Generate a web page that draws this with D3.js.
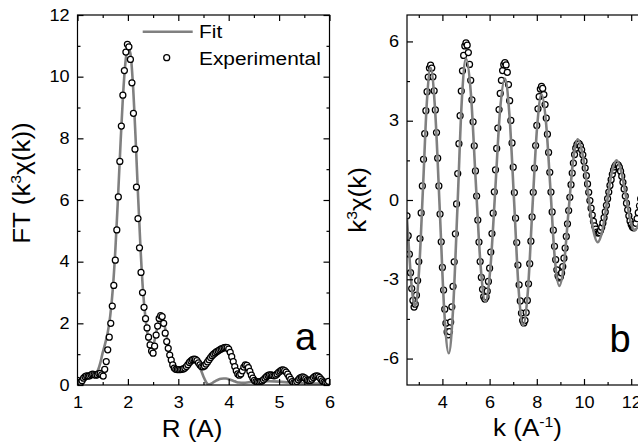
<!DOCTYPE html>
<html>
<head>
<meta charset="utf-8">
<script src="https://cdn.jsdelivr.net/npm/d3@7"></script>
<style>
body { margin: 0; background: #fff; }
svg text { font-family: "Liberation Sans", Arial, sans-serif; fill: #000; }
</style>
</head>
<body>
<svg id="chart"></svg>
<script>
// ---- panel a : Fourier transform magnitude ----
var rExp = [1.00,1.03,1.06,1.09,1.12,1.15,1.18,1.21,1.24,1.27,
  1.30,1.33,1.36,1.39,1.42,1.45,1.48,1.51,1.54,1.57,
  1.60,1.63,1.66,1.69,1.72,1.75,1.78,1.81,1.84,1.87,
  1.90,1.93,1.96,1.99,2.02,2.05,2.08,2.11,2.14,2.17,
  2.20,2.23,2.26,2.29,2.32,2.35,2.38,2.41,2.44,2.47,
  2.50,2.53,2.56,2.59,2.62,2.65,2.68,2.71,2.74,2.77,
  2.80,2.83,2.86,2.89,2.92,2.95,2.98,3.01,3.04,3.07,
  3.10,3.13,3.16,3.19,3.22,3.25,3.28,3.31,3.34,3.37,
  3.40,3.43,3.46,3.49,3.52,3.55,3.58,3.61,3.64,3.67,
  3.70,3.73,3.76,3.79,3.82,3.85,3.88,3.91,3.94,3.97,
  4.00,4.03,4.06,4.09,4.12,4.15,4.18,4.21,4.24,4.27,
  4.30,4.33,4.36,4.39,4.42,4.45,4.48,4.51,4.54,4.57,
  4.60,4.63,4.66,4.69,4.72,4.75,4.78,4.81,4.84,4.87,
  4.90,4.93,4.96,4.99,5.02,5.05,5.08,5.11,5.14,5.17,
  5.20,5.23,5.26,5.29,5.32,5.35,5.38,5.41,5.44,5.47,
  5.50,5.53,5.56,5.59,5.62,5.65,5.68,5.71,5.74,5.77,
  5.80,5.83,5.86,5.89,5.92,5.95,5.98]
var ftExp = [0.15,0.07,0.08,0.14,0.22,0.27,0.30,0.29,0.30,0.33,
  0.35,0.34,0.32,0.33,0.37,0.38,0.33,0.29,0.51,0.76,
  1.14,1.55,2.00,2.56,3.23,4.05,5.03,6.10,7.25,8.40,
  9.40,10.20,10.80,11.05,10.97,10.56,9.80,8.81,7.65,6.42,
  5.40,4.45,3.65,3.00,2.52,2.15,1.85,1.55,1.30,1.10,
  1.03,1.26,1.62,1.91,2.16,2.25,2.22,2.00,1.68,1.41,
  1.19,0.97,0.81,0.65,0.55,0.51,0.50,0.50,0.50,0.51,
  0.52,0.55,0.60,0.66,0.73,0.78,0.82,0.84,0.83,0.79,
  0.72,0.65,0.60,0.59,0.62,0.68,0.75,0.82,0.89,0.95,
  1.00,1.04,1.08,1.11,1.14,1.17,1.19,1.21,1.22,1.21,
  1.16,1.06,0.92,0.76,0.60,0.46,0.36,0.32,0.36,0.46,
  0.58,0.65,0.64,0.56,0.44,0.32,0.22,0.15,0.11,0.10,
  0.10,0.11,0.13,0.17,0.22,0.27,0.31,0.33,0.33,0.31,
  0.30,0.32,0.36,0.41,0.45,0.48,0.49,0.47,0.42,0.35,
  0.26,0.18,0.11,0.07,0.07,0.11,0.17,0.22,0.25,0.26,
  0.24,0.20,0.16,0.14,0.15,0.19,0.24,0.28,0.30,0.29,
  0.25,0.19,0.13,0.09,0.07,0.08,0.12]
var rFit = [1.30,1.35,1.40,1.45,1.50,1.55,1.60,1.65,1.70,1.75,
  1.80,1.85,1.90,1.95,2.00,2.05,2.10,2.15,2.20,2.25,
  2.30,2.35,2.40,2.45,2.50,2.55,2.60,2.65,2.70,2.75,
  2.80,2.85,2.90,2.95,3.00,3.05,3.10,3.15,3.20,3.25,
  3.30,3.35,3.40,3.45,3.50,3.55,3.60,3.65,3.70,3.75,
  3.80,3.85,3.90,3.95,4.00,4.05,4.10,4.15,4.20,
  4.30,4.40,4.50,4.60,4.80,5.00,5.20,5.40,5.60,5.80,6.00]
var ftFit = [0.28,0.33,0.45,0.70,1.05,1.35,1.70,2.25,3.10,4.35,
  5.95,7.70,9.30,10.45,10.95,10.75,9.75,8.10,6.20,4.45,
  3.05,2.15,1.55,1.30,1.30,1.60,2.00,2.22,2.10,1.75,
  1.30,0.92,0.68,0.55,0.50,0.50,0.52,0.58,0.68,0.77,
  0.82,0.80,0.68,0.48,0.27,0.10,0.02,0.04,0.09,0.14,
  0.18,0.20,0.21,0.21,0.19,0.16,0.13,0.10,0.08,
  0.07,0.09,0.11,0.12,0.12,0.11,0.08,0.06,0.05,0.05,0.05]

// ---- panel b : k^3 weighted EXAFS ----
var kExp = [2.50,2.55,2.60,2.65,2.70,2.75,2.80,2.85,2.90,2.95,
  3.00,3.05,3.10,3.15,3.20,3.25,3.30,3.35,3.40,3.45,
  3.50,3.55,3.60,3.65,3.70,3.75,3.80,3.85,3.90,3.95,
  4.00,4.05,4.10,4.15,4.20,4.25,4.30,4.35,4.40,4.45,
  4.50,4.55,4.60,4.65,4.70,4.75,4.80,4.85,4.90,4.95,
  5.00,5.05,5.10,5.15,5.20,5.25,5.30,5.35,5.40,5.45,
  5.50,5.55,5.60,5.65,5.70,5.75,5.80,5.85,5.90,5.95,
  6.00,6.05,6.10,6.15,6.20,6.25,6.30,6.35,6.40,6.45,
  6.50,6.55,6.60,6.65,6.70,6.75,6.80,6.85,6.90,6.95,
  7.00,7.05,7.10,7.15,7.20,7.25,7.30,7.35,7.40,7.45,
  7.50,7.55,7.60,7.65,7.70,7.75,7.80,7.85,7.90,7.95,
  8.00,8.05,8.10,8.15,8.20,8.25,8.30,8.35,8.40,8.45,
  8.50,8.55,8.60,8.65,8.70,8.75,8.80,8.85,8.90,8.95,
  9.00,9.05,9.10,9.15,9.20,9.25,9.30,9.35,9.40,9.45,
  9.50,9.55,9.60,9.65,9.70,9.75,9.80,9.85,9.90,9.95,
  10.00,10.05,10.10,10.15,10.20,10.25,10.30,10.35,10.40,10.45,
  10.50,10.55,10.60,10.65,10.70,10.75,10.80,10.85,10.90,10.95,
  11.00,11.05,11.10,11.15,11.20,11.25,11.30,11.35,11.40,11.45,
  11.50,11.55,11.60,11.65,11.70,11.75,11.80,11.85,11.90,11.95,
  12.00,12.05,12.10,12.15,12.20,12.25,12.30,12.35,12.40,12.45]
var chiExp = [-0.60,-1.35,-2.05,-2.75,-3.35,-3.80,-4.05,-3.94,-3.60,-3.05,
  -2.33,-1.46,-0.49,0.53,1.54,2.51,3.38,4.10,4.65,4.99,
  5.10,4.99,4.66,4.13,3.41,2.55,1.58,0.53,-0.53,-1.58,
  -2.55,-3.41,-4.13,-4.66,-4.99,-5.10,-4.98,-4.62,-4.04,-3.27,
  -2.34,-1.28,-0.15,1.00,2.13,3.19,4.12,4.89,5.47,5.83,
  5.95,5.86,5.58,5.13,4.53,3.79,2.96,2.05,1.10,0.15,
  -0.76,-1.59,-2.33,-2.93,-3.38,-3.66,-3.75,-3.67,-3.45,-3.08,
  -2.58,-1.97,-1.27,-0.50,0.31,1.14,1.95,2.72,3.42,4.03,
  4.53,4.90,5.12,5.20,5.11,4.83,4.37,3.76,3.01,2.16,
  1.24,0.28,-0.69,-1.61,-2.46,-3.21,-3.82,-4.28,-4.56,-4.65,
  -4.55,-4.26,-3.80,-3.17,-2.41,-1.56,-0.64,0.29,1.21,2.06,
  2.82,3.45,3.91,4.20,4.30,4.22,3.99,3.61,3.10,2.49,
  1.80,1.05,0.30,-0.45,-1.14,-1.75,-2.26,-2.64,-2.87,-2.95,
  -2.90,-2.76,-2.52,-2.20,-1.82,-1.38,-0.90,-0.40,0.10,0.58,
  1.02,1.40,1.72,1.96,2.10,2.15,2.12,2.04,1.90,1.71,
  1.47,1.21,0.92,0.61,0.29,-0.02,-0.31,-0.57,-0.81,-0.98,
  -1.10,-1.22,-1.25,-1.23,-1.15,-1.03,-0.87,-0.67,-0.45,-0.20,
  0.05,0.30,0.55,0.77,0.97,1.13,1.25,1.33,1.35,1.32,
  1.23,1.09,0.90,0.67,0.42,0.15,-0.12,-0.37,-0.60,-0.79,
  -0.93,-1.02,-1.05,-1.00,-0.88,-0.70,-0.48,-0.22,0.05,0.30]
var kFit = [2.50,2.60,2.70,2.78,2.85,3.01,3.18,3.34,3.50,3.69,3.89,4.08,
  4.27,4.45,4.64,4.82,5.00,5.21,5.41,5.62,5.82,6.03,6.24,6.44,
  6.65,6.84,7.04,7.23,7.42,7.62,7.81,8.01,8.20,8.39,8.58,8.76,
  8.95,9.15,9.34,9.54,9.73,9.94,10.16,10.37,10.58,10.78,10.98,11.18,
  11.38,11.57,11.77,11.96,12.15,12.35,12.55,12.75]
var chiFit = [-0.70,-2.10,-3.30,-3.85,-4.00,-2.68,0.50,3.68,5.00,3.42,-0.40,-4.22,
  -5.80,-4.17,-0.23,3.72,5.35,4.00,0.75,-2.50,-3.85,-2.61,0.38,3.36,
  4.60,3.23,-0.08,-3.38,-4.75,-3.47,-0.38,2.72,4.00,2.94,0.38,-2.19,
  -3.25,-2.44,-0.48,1.49,2.30,1.73,0.35,-1.03,-1.60,-1.15,-0.05,1.05,
  1.50,1.11,0.18,-0.76,-1.15,-0.80,0.00,0.75]

var ticksA = { xMaj: [1,2,3,4,5,6], xMin: [1.5,2.5,3.5,4.5,5.5],
               yMaj: [0,2,4,6,8,10,12], yMin: [1,3,5,7,9,11] }
var ticksB = { xMaj: [4,6,8,10,12], xMin: [3,5,7,9,11,13],
               yMaj: [-6,-3,0,3,6], yMin: [-4.5,-1.5,1.5,4.5] }

var width = 638, height = 446
var gray = "#808080"
var stretch = "scale(1.13,1)"

var svg = d3.select("#chart").attr("width", width).attr("height", height)

var xA = d3.scaleLinear().domain([1, 6]).range([77.5, 329.5])
var yA = d3.scaleLinear().domain([0, 12]).range([385, 15])
var xB = d3.scaleLinear().domain([2.5, 13]).range([407, 654.8])
var yB = d3.scaleLinear().domain([-7, 7]).range([385, 15])

function drawAxes(x, y, t) {
  var left = x.range()[0], right = x.range()[1], bottom = y.range()[0], top = y.range()[1]
  var g = svg.append("g")
  var sides = [
    [d3.axisBottom, x, 0, bottom, t.xMaj, t.xMin, true],
    [d3.axisTop, x, 0, top, t.xMaj, t.xMin, false],
    [d3.axisLeft, y, left, 0, t.yMaj, t.yMin, true],
    [d3.axisRight, y, right, 0, t.yMaj, t.yMin, false]
  ]
  sides.forEach(function(s, i) {
    var pad = i < 2 ? 11.8 : 7.1
    var major = s[0](s[1]).tickValues(s[4]).tickSizeInner(-6).tickSizeOuter(0)
      .tickPadding(pad).tickFormat(s[6] ? function(d) { return String(d) } : "")
    var minor = s[0](s[1]).tickValues(s[5]).tickSizeInner(-3).tickSizeOuter(0).tickFormat("")
    ;[major, minor].forEach(function(ax) {
      var a = g.append("g").attr("transform", "translate(" + s[2] + "," + s[3] + ")").call(ax)
      a.select(".domain").remove()
      a.attr("font-family", null).attr("font-size", 16)
      a.selectAll(".tick line").attr("stroke-width", 1.2)
      a.selectAll(".tick text").attr("transform", stretch)
    })
  })
  g.append("rect").attr("x", left).attr("y", top)
    .attr("width", right - left).attr("height", bottom - top)
    .attr("fill", "none").attr("stroke", "#000").attr("stroke-width", 1.2)
}

function clip(id, x, y) {
  svg.append("clipPath").attr("id", id).append("rect")
    .attr("x", x.range()[0]).attr("y", y.range()[1])
    .attr("width", x.range()[1] - x.range()[0]).attr("height", y.range()[0] - y.range()[1])
}
clip("clipA", xA, yA)
clip("clipB", xB, yB)

function fitLine(g, xs, ys, x, y) {
  var line = d3.line().x(function(d) { return x(d[0]) }).y(function(d) { return y(d[1]) })
    .curve(d3.curveMonotoneX)
  g.append("path").datum(d3.zip(xs, ys)).attr("d", line)
    .attr("fill", "none").attr("stroke", gray).attr("stroke-width", 2.6)
}
function dots(g, xs, ys, x, y) {
  g.selectAll("circle.exp").data(d3.zip(xs, ys)).enter().append("circle")
    .attr("class", "exp")
    .attr("cx", function(d) { return x(d[0]) })
    .attr("cy", function(d) { return y(d[1]) })
    .attr("r", 3).attr("fill", "#fff").attr("stroke", "#000").attr("stroke-width", 1.25)
}

// panel a
var gA = svg.append("g").attr("clip-path", "url(#clipA)")
fitLine(gA, rFit, ftFit, xA, yA)
dots(gA, rExp, ftExp, xA, yA)
drawAxes(xA, yA, ticksA)

// panel b
var gB = svg.append("g").attr("clip-path", "url(#clipB)")
dots(gB, kExp, chiExp, xB, yB)
fitLine(gB, kFit, chiFit, xB, yB)
drawAxes(xB, yB, ticksB)

// legend
svg.append("line").attr("x1", 142.7).attr("x2", 192.7).attr("y1", 31.7).attr("y2", 31.7)
  .attr("stroke", gray).attr("stroke-width", 2.6)
svg.append("circle").attr("cx", 166.7).attr("cy", 57.7).attr("r", 3)
  .attr("fill", "#fff").attr("stroke", "#000").attr("stroke-width", 1.25)
svg.append("text").attr("transform", "translate(199,38.3) " + stretch)
  .attr("font-size", 18.5).text("Fit")
svg.append("text").attr("transform", "translate(199,65) " + stretch)
  .attr("font-size", 18.5).text("Experimental")

// axis titles
svg.append("text").attr("transform", "translate(192,436.7) " + stretch)
  .attr("text-anchor", "middle").attr("font-size", 23).text("R (A)")
var tk = svg.append("text").attr("transform", "translate(527.5,436) " + stretch)
  .attr("text-anchor", "middle").attr("font-size", 23)
tk.append("tspan").text("k (A")
tk.append("tspan").attr("font-size", 14).attr("dy", -9).text("-1")
tk.append("tspan").attr("dy", 9).text(")")

var ta = svg.append("text").attr("transform", "translate(30,183) rotate(-90) " + stretch)
  .attr("text-anchor", "middle").attr("font-size", 23)
ta.append("tspan").text("FT (k")
ta.append("tspan").attr("font-size", 14).attr("dy", -9).text("3")
ta.append("tspan").attr("dy", 9).text("\u03c7(k))")

var tb = svg.append("text").attr("transform", "translate(366,200) rotate(-90) " + stretch)
  .attr("text-anchor", "middle").attr("font-size", 23)
tb.append("tspan").text("k")
tb.append("tspan").attr("font-size", 14).attr("dy", -9).text("3")
tb.append("tspan").attr("dy", 9).text("\u03c7(k)")

// panel letters
svg.append("text").attr("x", 295).attr("y", 350).attr("font-size", 38).text("a")
svg.append("text").attr("x", 609.5).attr("y", 351.7).attr("font-size", 38).text("b")
</script>
</body>
</html>
